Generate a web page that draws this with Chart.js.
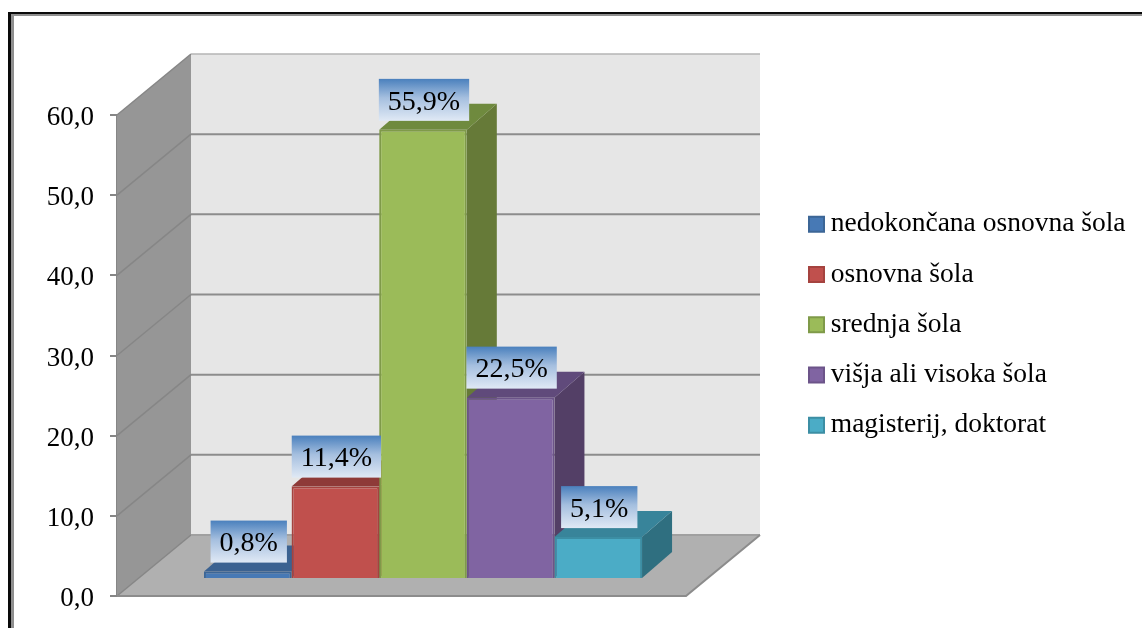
<!DOCTYPE html>
<html>
<head>
<meta charset="utf-8">
<title>Izobrazba</title>
<style>
    html, body { margin: 0; padding: 0; background: #fff; }
    canvas { display: block; filter: blur(0.4px); }
</style>
<script src="https://cdn.jsdelivr.net/npm/chart.js@4/dist/chart.umd.min.js"></script>
</head>
<body>
<canvas id="eduChart" width="1142" height="628"></canvas>
<script>
const categories = ['nedokončana osnovna šola', 'osnovna šola', 'srednja šola', 'višja ali visoka šola', 'magisterij, doktorat'];
const values = [0.8, 11.4, 55.9, 22.5, 5.1];
const yTicks = [0, 10, 20, 30, 40, 50, 60];

const frontColors = ['#4779b5', '#c0504d', '#9bbb59', '#8064a2', '#4bacc6'];
const edgeColors = ['#3c6696', '#a5433f', '#7f9a49', '#6c5489', '#3c8ea4'];
const topColors = ['#3b6291', '#8e3a38', '#6f8a3e', '#604a7b', '#38849a'];
const sideColors = ['#325379', '#7a3230', '#667a38', '#533f66', '#2f6f80'];

const SERIF = '"Liberation Serif", serif';
// 3d offsets: back wall from the front plane, bars from the front plane, bar depth
const WALL_DX = 74, WALL_DY = 61;
const BAR_DX = 21.5, BAR_DY = 18;
const DEPTH_DX = 30, DEPTH_DY = 26;

const PX_PER_UNIT = 481 / 60;
const barAxisMin = -BAR_DY / PX_PER_UNIT;
const barAxisMax = 60 + barAxisMin;

function poly(ctx, pts, fill) {
    ctx.beginPath();
    pts.forEach((p, i) => i ? ctx.lineTo(p[0], p[1]) : ctx.moveTo(p[0], p[1]));
    ctx.closePath();
    ctx.fillStyle = fill;
    ctx.fill();
}

const framePlugin = {
    id: 'frame',
    beforeDraw(chart) {
        const ctx = chart.ctx;
        ctx.save();
        ctx.fillStyle = '#fff';
        ctx.fillRect(0, 0, chart.width, chart.height);
        ctx.fillStyle = '#8f8f8f';
        ctx.fillRect(11, 14, chart.width, 2);
        ctx.fillRect(11, 14, 3, chart.height);
        ctx.fillStyle = '#0a0a0a';
        ctx.fillRect(8, 12, chart.width, 2);
        ctx.fillRect(8, 12, 3, chart.height);
        ctx.restore();
    }
};

// walls, floor and the fake depth of the bars, all hung on the real scales
const depthPlugin = {
    id: 'depth',
    beforeLayout(chart) {
        const legend = chart.legend;
        if (!legend.fitPatched) {
            const fit = legend.fit;
            legend.fit = function () {
                fit.call(this);
                this.width = 456;
            };
            legend.fitPatched = true;
        }
    },
    afterLayout(chart) {
        chart.legend.left = 793.25;
        chart.legend.top = 187.75;
    },
    beforeDatasetsDraw(chart) {
        const ctx = chart.ctx;
        const y = chart.scales.y;
        const { left, right } = chart.chartArea;
        const y0 = y.getPixelForValue(0), yTop = y.getPixelForValue(60);

        ctx.save();
        poly(ctx, [[left + WALL_DX, yTop - WALL_DY], [right + WALL_DX, yTop - WALL_DY], [right + WALL_DX, y0 - WALL_DY], [left + WALL_DX, y0 - WALL_DY]], '#e6e6e6');
        poly(ctx, [[left, yTop], [left + WALL_DX, yTop - WALL_DY], [left + WALL_DX, y0 - WALL_DY], [left, y0]], '#969696');
        poly(ctx, [[left, y0], [left + WALL_DX, y0 - WALL_DY], [right + WALL_DX, y0 - WALL_DY], [right, y0]], '#b0b0b0');

        // grid lines on the side wall and the back wall
        yTicks.forEach(t => {
            const py = y.getPixelForValue(t);
            ctx.strokeStyle = '#868686';
            ctx.lineWidth = 1.5;
            ctx.beginPath();
            ctx.moveTo(left, py);
            ctx.lineTo(left + WALL_DX, py - WALL_DY);
            ctx.stroke();
            ctx.strokeStyle = t === 0 ? '#a0a0a0' : (t === 60 ? '#b4b4b4' : '#8c8c8c');
            ctx.lineWidth = t === 60 ? 1.5 : 2;
            ctx.beginPath();
            ctx.moveTo(left + WALL_DX, py - WALL_DY);
            ctx.lineTo(right + WALL_DX, py - WALL_DY);
            ctx.stroke();
        });
        ctx.strokeStyle = '#8c8c8c';
        ctx.lineWidth = 2;
        ctx.beginPath();
        ctx.moveTo(left, y0);
        ctx.lineTo(right, y0);
        ctx.lineTo(right + WALL_DX, y0 - WALL_DY);
        ctx.stroke();

        // top and side faces left to right, the front faces come after
        ctx.translate(BAR_DX, 0);
        values.forEach((v, i) => {
            const bar = chart.getDatasetMeta(i).data[0];
            const l = bar.x - bar.width / 2, r = bar.x + bar.width / 2;
            poly(ctx, [[r, bar.base], [r + DEPTH_DX, bar.base - DEPTH_DY], [r + DEPTH_DX, bar.y - DEPTH_DY], [r, bar.y]], sideColors[i]);
            poly(ctx, [[l, bar.y], [l + DEPTH_DX, bar.y - DEPTH_DY], [r + DEPTH_DX, bar.y - DEPTH_DY], [r, bar.y]], topColors[i]);
        });
        // stays translated for the bars, restored in afterDatasetsDraw
    },
    afterDatasetsDraw(chart) {
        const ctx = chart.ctx;
        ctx.restore();
        ctx.save();
        ctx.font = '28px ' + SERIF;
        ctx.textAlign = 'center';
        ctx.textBaseline = 'middle';
        values.forEach((v, i) => {
            const bar = chart.getDatasetMeta(i).data[0];
            const txt = v.toFixed(1).replace('.', ',') + '%';
            const w = ctx.measureText(txt).width + 18;
            const cx = bar.x + BAR_DX + 1;
            const bottom = bar.y - 9, top = bottom - 42;
            const grad = ctx.createLinearGradient(0, top, 0, bottom);
            grad.addColorStop(0, '#4a80bd');
            grad.addColorStop(0.45, '#a5bfdf');
            grad.addColorStop(1, '#e0e9f5');
            ctx.fillStyle = grad;
            ctx.fillRect(cx - w / 2, top, w, 42);
            ctx.fillStyle = '#000';
            ctx.fillText(txt, cx, top + 23.5);
        });
        ctx.restore();
    }
};

new Chart(document.getElementById('eduChart'), {
    type: 'bar',
    data: {
        labels: [''],
        datasets: categories.map((name, i) => ({
            label: name,
            data: [values[i]],
            yAxisID: 'yBar',
            backgroundColor: frontColors[i],
            borderColor: edgeColors[i],
            borderWidth: 2,
            clip: false
        }))
    },
    options: {
        responsive: false,
        animation: false,
        layout: { padding: { top: 115, bottom: 32, left: 0, right: 0 } },
        barPercentage: 1,
        categoryPercentage: 0.77,
        scales: {
            x: { display: false },
            y: {
                min: 0,
                max: 60,
                afterFit: s => { s.width = 117; s.paddingTop = 0; s.paddingBottom = 0; },
                afterBuildTicks: s => { s.ticks = yTicks.map(value => ({ value })); },
                grid: { drawOnChartArea: false, drawTicks: true, tickLength: 7, color: '#868686', lineWidth: 2 },
                border: { color: '#868686', width: 2 },
                ticks: {
                    padding: 16,
                    labelOffset: 3,
                    color: '#000',
                    font: { family: SERIF, size: 27 },
                    callback: v => v.toFixed(1).replace('.', ',')
                }
            },
            yBar: { display: false, min: barAxisMin, max: barAxisMax }
        },
        plugins: {
            legend: {
                position: 'right',
                align: 'start',
                labels: {
                    // 1px slot with a point style keeps the text close to the marker
                    usePointStyle: true,
                    pointStyle: 'rect',
                    boxWidth: 1,
                    boxHeight: 15,
                    padding: 22.75,
                    color: '#000',
                    font: { family: SERIF, size: 27.5 }
                }
            },
            tooltip: { enabled: false }
        }
    },
    plugins: [framePlugin, depthPlugin]
});
</script>
</body>
</html>
